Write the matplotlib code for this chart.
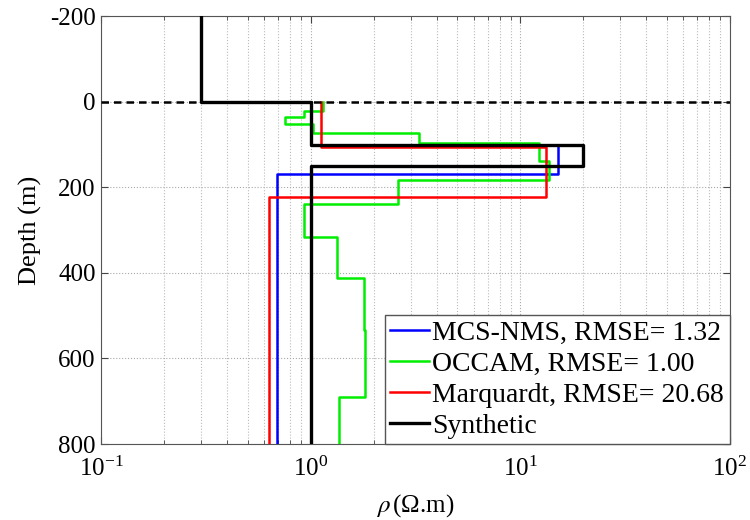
import matplotlib
matplotlib.use("Agg")
import matplotlib.pyplot as plt
import numpy as np

plt.rcParams['font.family'] = ['Liberation Serif', 'DejaVu Serif']
plt.rcParams['mathtext.fontset'] = 'stix'
plt.rcParams['axes.unicode_minus'] = False

# Layer models: resistivity per layer, interface depths (top of each layer, then bottom)
syn_rho = [0.30, 1.0, 20.0, 1.0]
syn_z = [-200, 0, 100, 150, 800]

mcs_rho = [1.0, 15.2, 0.69]
mcs_z = [0, 100, 169, 800]

occam_rho = [1.15, 0.93, 0.75, 1.03, 3.3, 12.3, 13.7, 2.6, 0.93, 1.33, 1.79, 1.81, 1.36]
occam_z = [0, 22, 36, 53, 73, 97, 138, 182, 240, 316, 412, 534, 689, 800]

marq_rho = [1.12, 13.3, 0.63]
marq_z = [0, 105, 222, 800]

labels = ["MCS-NMS, RMSE= 1.32", "OCCAM, RMSE= 1.00", "Marquardt, RMSE= 20.68", "Synthetic"]


def steps(rho, z):
    xs, ys = [], []
    for i, r in enumerate(rho):
        xs += [r, r]
        ys += [z[i], z[i + 1]]
    return xs, ys


fig = plt.figure(figsize=(7.5, 5.2), dpi=100)
ax = fig.add_axes([0.135, 0.146, 0.838, 0.823])

x, y = steps(mcs_rho, mcs_z)
ax.plot(x, y, color='#0000ff', lw=1.8, label=labels[0], zorder=3)
x, y = steps(occam_rho, occam_z)
ax.plot(x, y, color='#00ee00', lw=1.8, label=labels[1], zorder=3)
x, y = steps(marq_rho, marq_z)
ax.plot(x, y, color='#ff0000', lw=1.8, label=labels[2], zorder=3)
x, y = steps(syn_rho, syn_z)
ax.plot(x, y, color='black', lw=2.4, label=labels[3], zorder=4)

ax.axhline(0, color='black', lw=1.8, ls=(0, (3, 2)), zorder=5)

ax.set_xscale('log')
ax.set_xlim(0.1, 100)
ax.set_ylim(800, -200)
ax.set_yticks([-200, 0, 200, 400, 600, 800])

ax.grid(True, which='major', ls=':', color='#aaaaaa', lw=0.8)
ax.grid(True, which='minor', axis='x', ls=':', color='#bbbbbb', lw=0.8)

ax.tick_params(which='both', direction='in', top=True, right=True, labelsize=18, color='#444444')
ax.tick_params(which='major', length=5)
ax.tick_params(which='minor', length=3)
ax.tick_params(axis='x', pad=9)
ax.tick_params(axis='y', pad=4)
for s in ax.spines.values():
    s.set_color('#555555')

ax.set_ylabel('Depth (m)', fontsize=19, labelpad=6)
ax.set_xlabel(r'$\rho\,$(Ω.m)', fontsize=18, labelpad=8)

leg = ax.legend(loc='lower right', fontsize=20, handlelength=1.4, handletextpad=0.12,
                borderpad=0.2, labelspacing=0.2, fancybox=False, framealpha=1,
                edgecolor='#555555', borderaxespad=0)
leg.get_frame().set_linewidth(1.0)

fig.savefig('out.png', dpi=100)
